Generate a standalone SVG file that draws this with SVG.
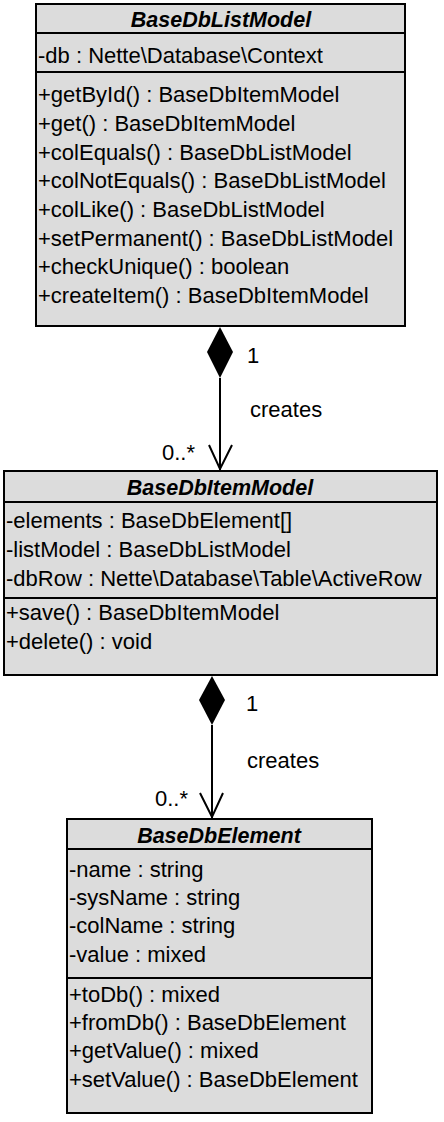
<svg xmlns="http://www.w3.org/2000/svg" width="444" height="1122" viewBox="0 0 444 1122">
<style>
.box{fill:#dcdcdc;stroke:#000;stroke-width:2}
.div{stroke:#000;stroke-width:2}
text{font-family:"Liberation Sans",Arial,sans-serif;font-size:22px;fill:#000}
.t{font-weight:bold;font-style:italic;text-anchor:middle;font-size:21.5px}
.ln{stroke:#000;stroke-width:2;fill:none}
</style>
<rect width="444" height="1122" fill="#fff"/>
<g id="BaseDbListModel">
<rect class="box" x="36" y="4" width="369" height="322"/>
<line class="div" x1="36" y1="33" x2="405" y2="33"/>
<line class="div" x1="36" y1="72" x2="405" y2="72"/>
<text class="t" x="221" y="27">BaseDbListModel</text>
<text x="38" y="63">-db : Nette\Database\Context</text>
<text x="38" y="102">+getById() : BaseDbItemModel</text>
<text x="38" y="131">+get() : BaseDbItemModel</text>
<text x="38" y="160">+colEquals() : BaseDbListModel</text>
<text x="38" y="188">+colNotEquals() : BaseDbListModel</text>
<text x="38" y="217">+colLike() : BaseDbListModel</text>
<text x="38" y="246">+setPermanent() : BaseDbListModel</text>
<text x="38" y="274">+checkUnique() : boolean</text>
<text x="38" y="303">+createItem() : BaseDbItemModel</text>
</g>
<g id="BaseDbItemModel">
<rect class="box" x="4" y="471" width="433" height="204"/>
<line class="div" x1="4" y1="502" x2="437" y2="502"/>
<line class="div" x1="4" y1="598" x2="437" y2="598"/>
<text class="t" x="220" y="495">BaseDbItemModel</text>
<text x="6" y="528">-elements : BaseDbElement[]</text>
<text x="6" y="557">-listModel : BaseDbListModel</text>
<text x="6" y="586">-dbRow : Nette\Database\Table\ActiveRow</text>
<text x="6" y="620">+save() : BaseDbItemModel</text>
<text x="6" y="649">+delete() : void</text>
</g>
<g id="BaseDbElement">
<rect class="box" x="67" y="819" width="305" height="294"/>
<line class="div" x1="67" y1="849" x2="372" y2="849"/>
<line class="div" x1="67" y1="978" x2="372" y2="978"/>
<text class="t" x="219" y="843">BaseDbElement</text>
<text x="69" y="877">-name : string</text>
<text x="69" y="905">-sysName : string</text>
<text x="69" y="933">-colName : string</text>
<text x="69" y="962">-value : mixed</text>
<text x="69" y="1002">+toDb() : mixed</text>
<text x="69" y="1030">+fromDb() : BaseDbElement</text>
<text x="69" y="1058">+getValue() : mixed</text>
<text x="69" y="1087">+setValue() : BaseDbElement</text>
</g>
<g id="connectors">
<polygon points="220,327 233,352 220,378 207,352" fill="#000"/>
<line class="ln" x1="220" y1="378" x2="220" y2="470"/>
<polyline class="ln" points="209,445 220,469 232,445"/>
<text x="247" y="363">1</text>
<text x="250" y="417">creates</text>
<text x="162" y="460">0..*</text>
<polygon points="212,676 225,700 212,725 199,700" fill="#000"/>
<line class="ln" x1="212" y1="725" x2="212" y2="818"/>
<polyline class="ln" points="200,793 212,817 223,793"/>
<text x="246" y="711">1</text>
<text x="247" y="768">creates</text>
<text x="155" y="806">0..*</text>
</g>
</svg>
